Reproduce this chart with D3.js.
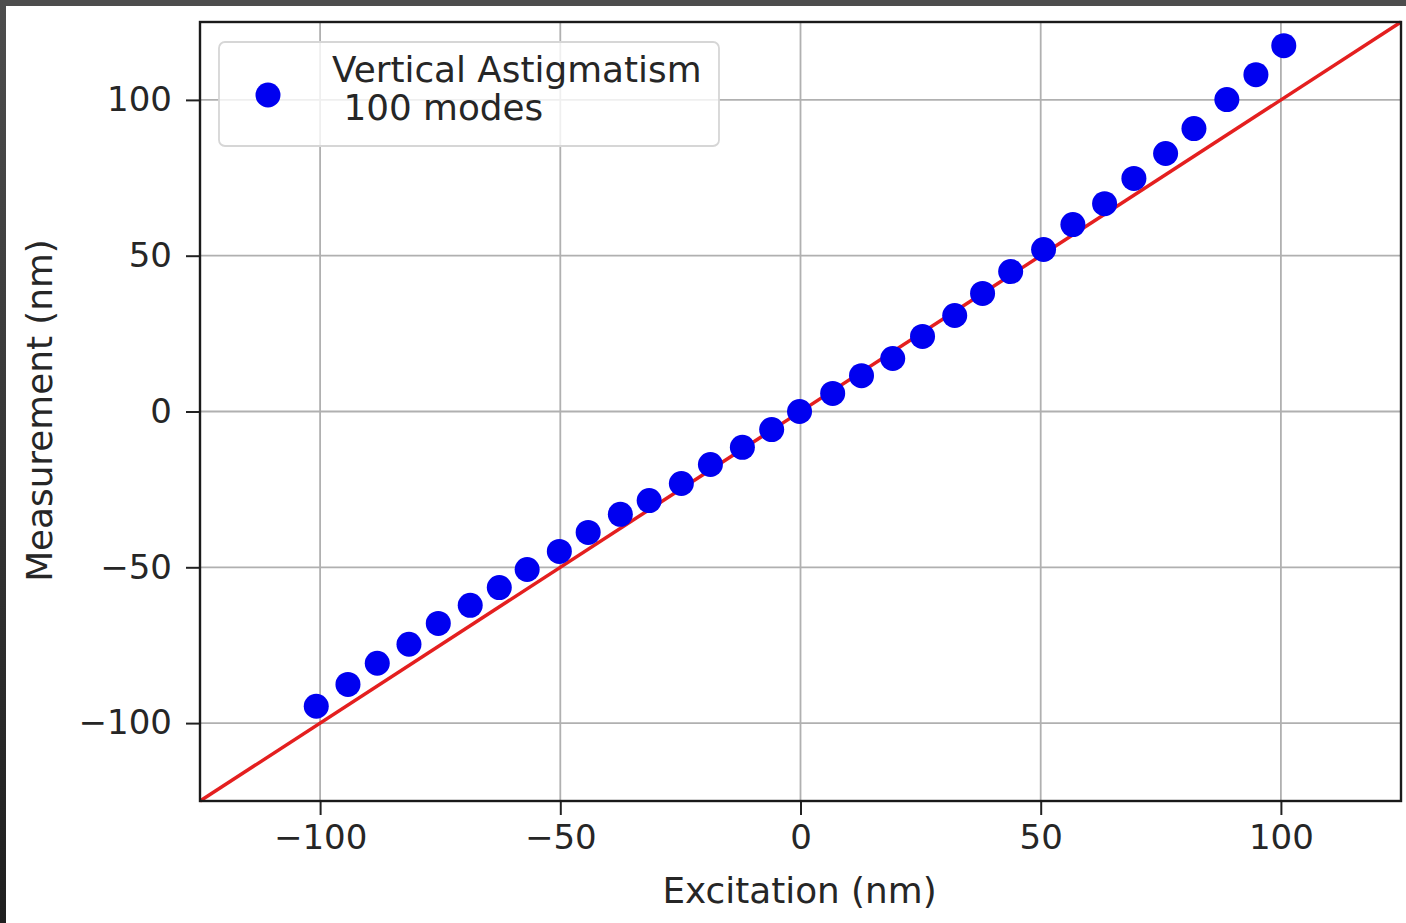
<!DOCTYPE html>
<html>
<head>
<meta charset="utf-8">
<script src="https://cdn.jsdelivr.net/npm/d3@7"></script>
<style>
  body { margin: 0; background: #fff; }
  text { font-family: "DejaVu Sans", sans-serif; fill: #262626; }
</style>
</head>
<body>
<div id="chart"></div>
<script>
var excitation = [-100.8, -94.2, -88.1, -81.5, -75.4, -68.75, -62.7, -56.9, -50.2, -44.2, -37.5, -31.5,
  -24.8, -18.75, -12.1, -6.0, -0.2, 6.7, 12.7, 19.2, 25.4, 32.1, 37.9, 43.75, 50.6, 56.7, 63.3, 69.4,
  76.0, 81.9, 88.75, 94.8, 100.6];
var measurement = [-94.6, -87.6, -80.8, -74.7, -68.0, -62.2, -56.5, -50.7, -44.9, -38.8, -33.0, -28.6,
  -23.1, -17.0, -11.5, -5.8, 0, 5.8, 11.5, 17.0, 24.1, 30.8, 37.9, 44.9, 52.0, 60.0, 66.7, 74.8,
  82.8, 90.8, 100.1, 108.1, 117.4];
var xTicks = [-100, -50, 0, 50, 100];
var yTicks = [-100, -50, 0, 50, 100];
var legendLines = ["Vertical Astigmatism", " 100 modes"];

var svgWidth = 1406;
var svgHeight = 923;
var margin = { top: 22, right: 5, bottom: 122, left: 200 };
var width = svgWidth - margin.left - margin.right;
var height = svgHeight - margin.top - margin.bottom;

var svg = d3.select("#chart")
  .append("svg")
  .attr("width", svgWidth)
  .attr("height", svgHeight);

// dark frame from the screenshot edges
var grad = svg.append("defs").append("linearGradient")
  .attr("id", "edge").attr("x1", 0).attr("y1", 0).attr("x2", 0).attr("y2", 1);
grad.append("stop").attr("offset", "0%").attr("stop-color", "#4d4d4d");
grad.append("stop").attr("offset", "100%").attr("stop-color", "#1f1f1f");
svg.append("rect").attr("x", 0).attr("y", 0).attr("width", svgWidth).attr("height", 6).attr("fill", "#4d4d4d");
svg.append("rect").attr("x", 0).attr("y", 0).attr("width", 6).attr("height", svgHeight).attr("fill", "url(#edge)");

var chartGroup = svg.append("g")
  .attr("transform", `translate(${margin.left}, ${margin.top})`);

var x = d3.scaleLinear().domain([-125, 125]).range([0, width]);
var y = d3.scaleLinear().domain([-125, 125]).range([height, 0]);

// grid
chartGroup.append("g")
  .selectAll("line").data(xTicks).enter().append("line")
  .attr("x1", d => x(d)).attr("x2", d => x(d))
  .attr("y1", 0).attr("y2", height)
  .attr("stroke", "#b0b0b0").attr("stroke-width", 1.8);
chartGroup.append("g")
  .selectAll("line").data(yTicks).enter().append("line")
  .attr("y1", d => y(d)).attr("y2", d => y(d))
  .attr("x1", 0).attr("x2", width)
  .attr("stroke", "#b0b0b0").attr("stroke-width", 1.8);

// axes
var fmt = d => d < 0 ? "\u2212" + Math.abs(d) : String(d);
var bottomAxis = d3.axisBottom(x).tickValues(xTicks).tickSize(14).tickPadding(8).tickFormat(fmt);
var leftAxis = d3.axisLeft(y).tickValues(yTicks).tickSize(14).tickPadding(14).tickFormat(fmt);

var gx = chartGroup.append("g")
  .attr("transform", `translate(0, ${height})`)
  .call(bottomAxis);
var gy = chartGroup.append("g").call(leftAxis);
[gx, gy].forEach(function(g) {
  g.select(".domain").remove();
  g.selectAll("line").attr("stroke", "#222").attr("stroke-width", 2);
  g.selectAll("text").attr("font-size", 34).attr("font-family", "DejaVu Sans").attr("fill", "#262626");
});
gx.selectAll("text").attr("dy", "0.75em");
gy.selectAll("text").attr("dy", "0.32em");

// y = x reference line
chartGroup.append("line")
  .attr("x1", x(-125)).attr("y1", y(-125))
  .attr("x2", x(125)).attr("y2", y(125))
  .attr("stroke", "#e41f1f").attr("stroke-width", 3.5);

// points
chartGroup.selectAll("circle.pt")
  .data(excitation)
  .enter()
  .append("circle")
  .attr("class", "pt")
  .attr("cx", d => x(d))
  .attr("cy", (d, i) => y(measurement[i]))
  .attr("r", 12.5)
  .attr("fill", "#0000f0");

// spines
chartGroup.append("rect")
  .attr("x", 0).attr("y", 0).attr("width", width).attr("height", height)
  .attr("fill", "none").attr("stroke", "#1a1a1a").attr("stroke-width", 2.4);

// legend
var legend = chartGroup.append("g").attr("transform", "translate(19, 20)");
legend.append("rect")
  .attr("width", 500).attr("height", 104).attr("rx", 6)
  .attr("fill", "#fff").attr("fill-opacity", 0.8)
  .attr("stroke", "#d6d6d6").attr("stroke-width", 1.8);
legend.append("circle").attr("cx", 49).attr("cy", 53).attr("r", 12.5).attr("fill", "#0000f0");
legend.selectAll("text.lg")
  .data(legendLines)
  .enter()
  .append("text")
  .attr("class", "lg")
  .attr("x", 113)
  .attr("y", (d, i) => 40 + i * 38)
  .attr("font-size", 35.8)
  .attr("xml:space", "preserve")
  .style("white-space", "pre")
  .text(d => d);

// axis labels
svg.append("text")
  .attr("x", margin.left + width / 2 - 1)
  .attr("y", 903)
  .attr("text-anchor", "middle")
  .attr("font-size", 35.8)
  .text("Excitation (nm)");

svg.append("text")
  .attr("transform", `translate(52, ${margin.top + height / 2 - 1}) rotate(-90)`)
  .attr("text-anchor", "middle")
  .attr("font-size", 35.8)
  .text("Measurement (nm)");
</script>
</body>
</html>
